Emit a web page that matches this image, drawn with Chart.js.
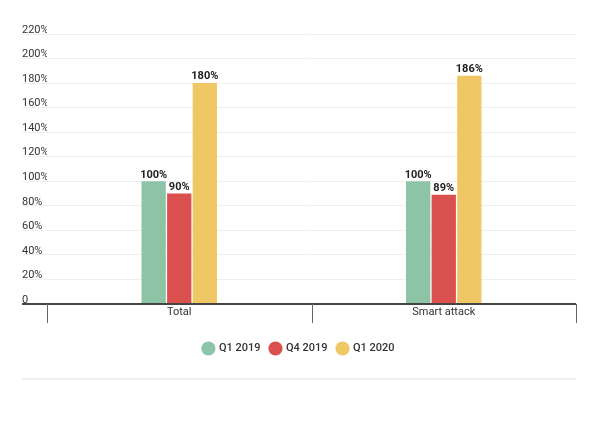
<!DOCTYPE html>
<html><head><meta charset="utf-8">
<script src="https://cdn.jsdelivr.net/npm/chart.js@4"></script>
<style>
html,body{margin:0;padding:0;background:#fff;}
#wrap{position:relative;width:600px;height:378px;}
#rule{position:absolute;left:22px;top:378px;width:554px;height:0;border-top:2px solid #efefef;}
</style>
</head><body>
<div id="wrap"><canvas id="c"></canvas></div>
<div id="rule"></div>
<script>
const categories = ['Total', 'Smart attack'];
const seriesNames = ['Q1 2019', 'Q4 2019', 'Q1 2020'];
const q1_2019 = [100, 100];
const q4_2019 = [90, 89];
const q1_2020 = [180, 186];
const yTicks = [0, 20, 40, 60, 80, 100, 120, 140, 160, 180, 200, 220];
const colors = ['#8dc4a5', '#d9504f', '#efc865'];

const labelPlugin = {
  id: 'barLabels',
  afterDatasetsDraw(chart) {
    const ctx = chart.ctx;
    ctx.save();
    ctx.font = 'bold 11px Roboto';
    ctx.fillStyle = '#222';
    ctx.textAlign = 'center';
    ctx.textBaseline = 'bottom';
    chart.data.datasets.forEach((ds, i) => {
      chart.getDatasetMeta(i).data.forEach((bar, j) => {
        ctx.fillText(ds.data[j] + '%', bar.x, bar.y - 1);
      });
    });
    ctx.restore();
  }
};

const catTicks = {
  id: 'catTicks',
  afterDraw(chart) {
    const x = chart.scales.x, ctx = chart.ctx, b = chart.chartArea.bottom;
    const n = x.ticks.length;
    ctx.save();
    ctx.strokeStyle = '#666';
    ctx.lineWidth = 1;
    for (let i = 0; i <= n; i++) {
      const px = Math.round(x.getPixelForValue(i - 0.5)) + 0.5;
      ctx.beginPath();
      ctx.moveTo(px, b);
      ctx.lineTo(px, b + 19);
      ctx.stroke();
    }
    ctx.restore();
  }
};

new Chart(document.getElementById('c'), {
  type: 'bar',
  data: {
    labels: categories,
    datasets: [
      { label: seriesNames[0], data: q1_2019, backgroundColor: colors[0] },
      { label: seriesNames[1], data: q4_2019, backgroundColor: colors[1] },
      { label: seriesNames[2], data: q1_2020, backgroundColor: colors[2] }
    ]
  },
  options: {
    responsive: true,
    maintainAspectRatio: false,
    animation: false,
    layout: { padding: { left: 22, right: 24, top: 34, bottom: 14 } },
    datasets: { bar: { categoryPercentage: 0.29, barPercentage: 0.95 } },
    scales: {
      x: {
        offset: true,
        grid: { display: false, drawTicks: false },
        border: { display: false },
        afterFit(scale) { scale.height = 29; },
        ticks: { padding: 2, color: '#333', font: { family: 'Roboto', size: 11 } }
      },
      y: {
        min: 0, max: 220,
        afterBuildTicks(scale) { scale.ticks = yTicks.map(v => ({ value: v })); },
        afterFit(scale) { scale.width = 25; },
        border: { display: false },
        grid: {
          drawTicks: true, tickLength: 25,
          color: c => (c.tick && c.tick.value === 0) ? '#444' : '#efefef',
          lineWidth: c => (c.tick && c.tick.value === 0) ? 2 : 1
        },
        ticks: {
          crossAlign: 'far', labelOffset: -4, padding: 0,
          color: '#333', font: { family: 'Roboto', size: 11 },
          callback: v => v === 0 ? '0' : v + '%'
        }
      }
    },
    plugins: {
      tooltip: { enabled: false },
      legend: {
        position: 'bottom',
        labels: { usePointStyle: true, pointStyle: 'circle', boxWidth: 10, boxHeight: 10, padding: 10,
          color: '#333', font: { family: 'Roboto', size: 11, weight: '500' } }
      }
    }
  },
  plugins: [labelPlugin, catTicks]
});
</script>
</body></html>
